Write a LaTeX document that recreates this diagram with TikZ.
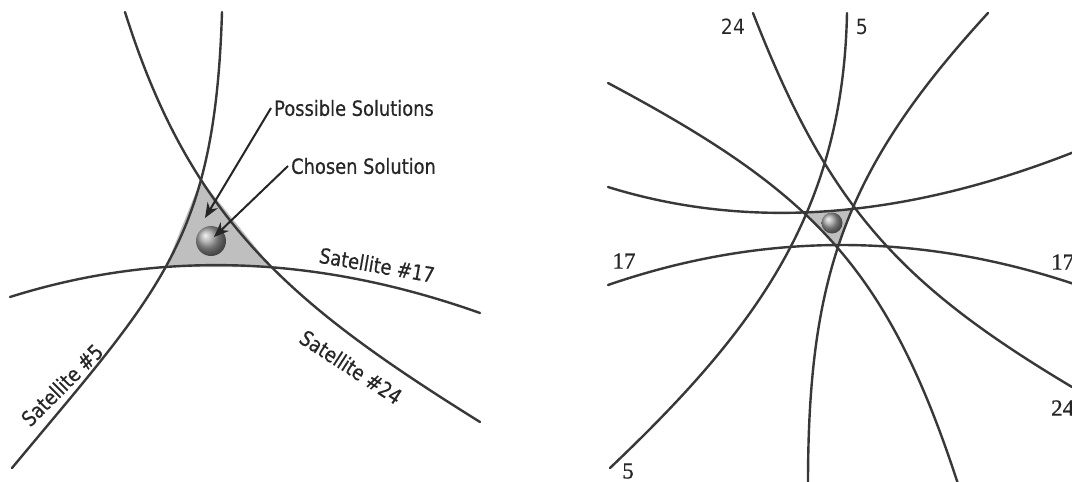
\documentclass[tikz,border=0pt]{standalone}
\usepackage{fontspec}
\setmainfont{Liberation Serif}
\newfontfamily\labfont[FakeStretch=0.85,FakeBold=0.5]{DejaVu Sans}
\newfontfamily\numfont[FakeBold=0.8]{Liberation Serif}
\newfontfamily\snumfont[FakeStretch=0.9]{DejaVu Sans}
\usetikzlibrary{arrows.meta,intersections}
\begin{document}
\begin{tikzpicture}[x=1pt,y=-1pt,
 orbit/.style={draw=black!78, line width=2.4pt, line cap=round},
 zone/.style={fill=gray!50},
 lab/.style={font=\labfont\fontsize{21}{22}\selectfont, text=black!85, inner sep=0pt},
 num/.style={font=\numfont\fontsize{23}{23}\selectfont, text=black!85, inner sep=0pt},
 snum/.style={font=\snumfont\fontsize{21}{21}\selectfont, text=black!85, inner sep=0pt},
 pointer/.style={draw=black!85, line width=2pt, -{Stealth[length=15pt,width=12pt]}},
 sphere/.style={circle, shading=ball, ball color=gray!75, inner sep=0pt}
]
\useasboundingbox (0,0) rectangle (1072,482);
\fill[white] (0,0) rectangle (1072,482);

% ---------- left panel: orbit paths ----------
\path[name path=l17] (10,297) .. controls (160,249.7) and (316.7,255) .. (480,313);
\path[name path=l5] (222,12) .. controls (215,242) and (159,291) .. (12,468);
\path[name path=l24] (125,12) .. controls (191,222) and (293,305.4) .. (480,422);
\path[name intersections={of=l5 and l24, by=ltop}];
\path[name intersections={of=l5 and l17, by=lleft}];
\path[name intersections={of=l24 and l17, by=lright}];
\fill[zone] (ltop) -- (lleft) -- (lright) -- cycle;
\draw[orbit] (10,297) .. controls (160,249.7) and (316.7,255) .. (480,313);
\draw[orbit] (222,12) .. controls (215,242) and (159,291) .. (12,468);
\draw[orbit] (125,12) .. controls (191,222) and (293,305.4) .. (480,422);

\node[sphere, minimum size=30pt] (ball) at (211,241) {};

\node[lab, anchor=west, inner sep=3pt] (ps) at (271,108) {Possible Solutions};
\node[lab, anchor=west, inner sep=3pt] (cs) at (288,166) {Chosen Solution};
\coordinate (pstip) at (205,218);
\coordinate (cstip) at (214,237);
\draw[pointer] (ps.west) -- (pstip);
\draw[pointer] (cs.west) -- (cstip);

\node[lab, rotate=-10] (s17) at (377,265) {Satellite \#17};
\node[lab, rotate=-33] (s24) at (351,367) {Satellite \#24};
\node[lab, rotate=45] (s5) at (62,385) {Satellite \#5};

% ---------- right panel ----------
\path[name path=rc] (608,83) .. controls (811,191.1) and (886.9,265.3) .. (958,484);
\path[name path=rd] (988,13) .. controls (846,167.8) and (808,274) .. (808,484);
\path[name path=re] (608,187) .. controls (748.7,230.7) and (904,219) .. (1074,152);
\path[name intersections={of=rc and re, by=rtl}];
\path[name intersections={of=rd and re, by=rtr}];
\path[name intersections={of=rc and rd, by=rbot}];
\fill[zone] (rtl) -- (rtr) -- (rbot) -- cycle;
% satellite 24 band
\draw[orbit] (753,13) .. controls (827.6,203.9) and (896,282.2) .. (1072,387);
\draw[orbit] (608,83) .. controls (811,191.1) and (886.9,265.3) .. (958,484);
% satellite 5 band
\draw[orbit] (847,13) .. controls (843,213) and (755,330.2) .. (610,468);
\draw[orbit] (988,13) .. controls (846,167.8) and (808,274) .. (808,484);
% satellite 17 band
\draw[orbit] (608,187) .. controls (748.7,230.7) and (904,219) .. (1074,152);
\draw[orbit] (608,285) .. controls (762,232) and (917.3,231.7) .. (1074,284);

\node[sphere, minimum size=21pt] (ball2) at (832,223) {};

\node[snum] (t24) at (733,27) {24};
\node[snum] (t5) at (862,27) {5};
\node[num] (l17) at (624,261) {17};
\node[num, anchor=west] (r17) at (1051,262) {17};
\node[num, anchor=west] (r24) at (1051,408) {24};
\node[num] (b5) at (628,471) {5};
\end{tikzpicture}
\end{document}
